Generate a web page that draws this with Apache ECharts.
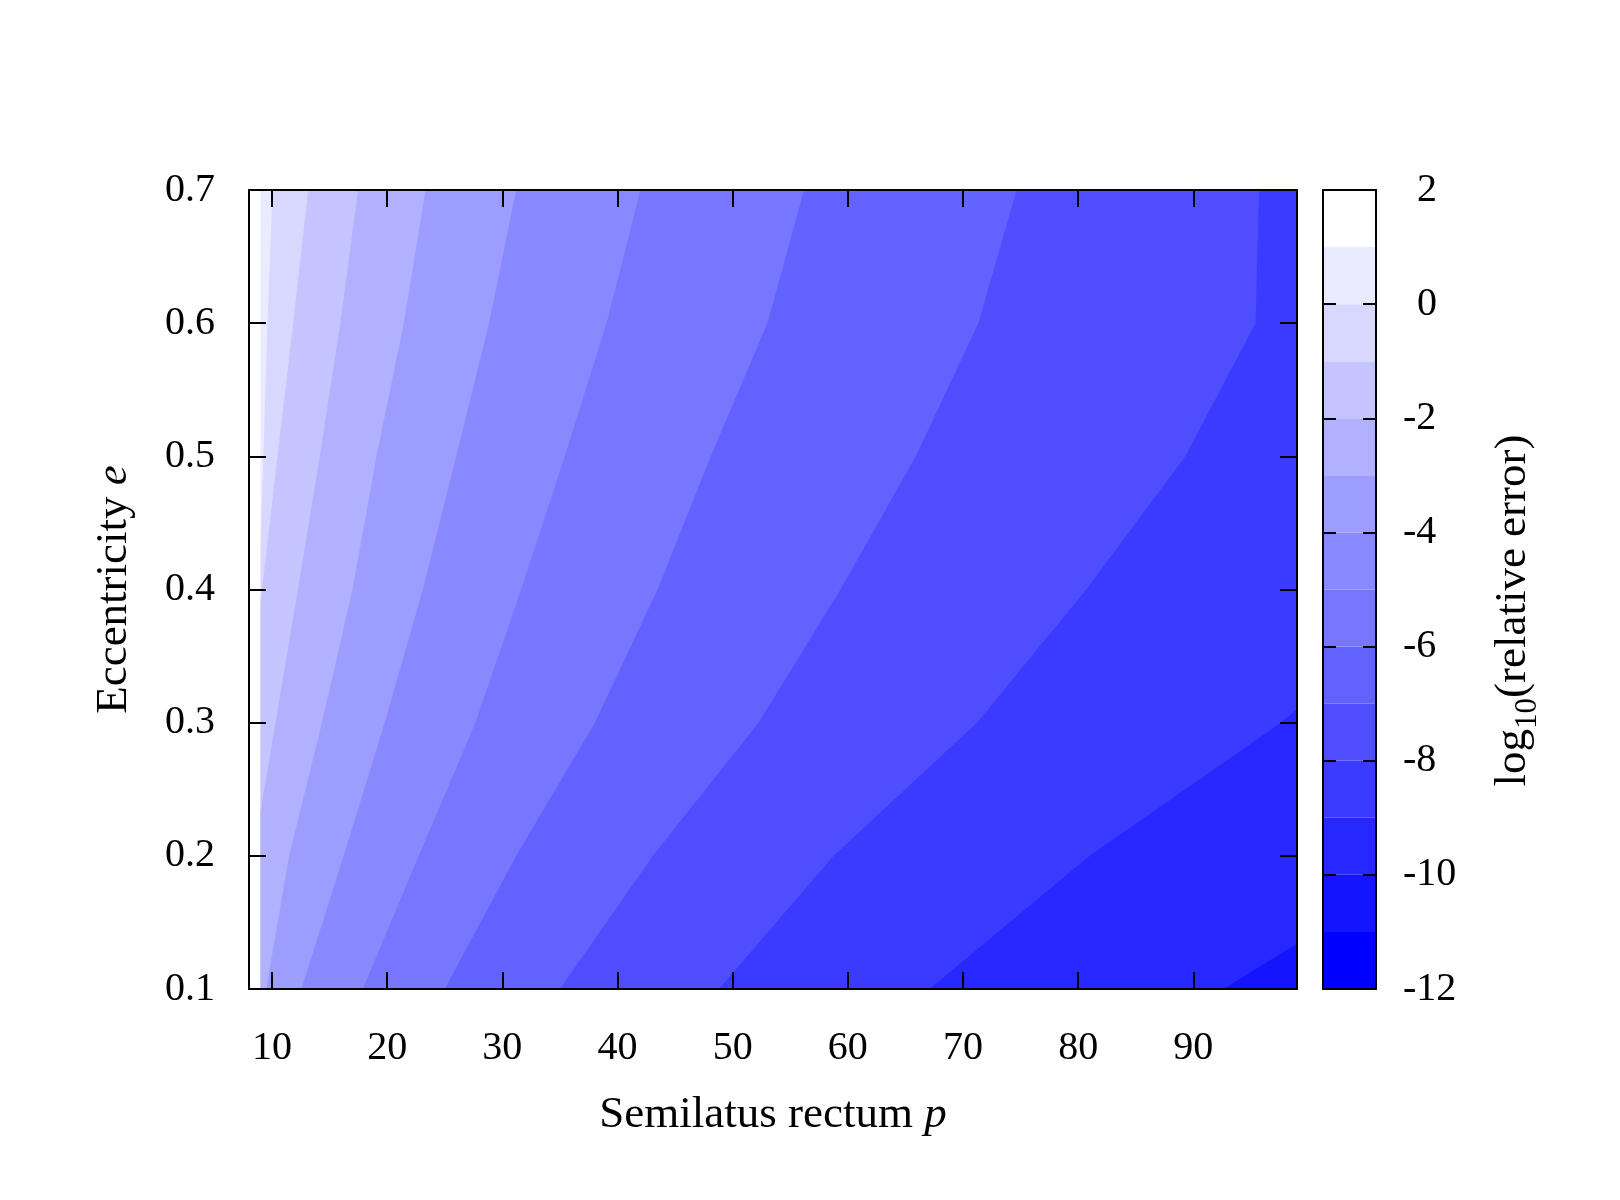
<!DOCTYPE html>
<html>
<head>
<meta charset="utf-8">
<title>log10(relative error)</title>
<script src="https://cdn.jsdelivr.net/npm/echarts@6/dist/echarts.min.js"></script>
<style>
html,body{margin:0;padding:0;background:#fff;}
#chart{width:1620px;height:1200px;}
</style>
</head>
<body>
<div id="chart"></div>
<script>
// contour lines of log10(relative error) as [p, e] points
var cut_0   = [[9.0,0.43],[9.25,0.5],[9.6,0.6],[10.05,0.7]];
var cut_m1  = [[9.0,0.39],[10.47,0.5],[11.84,0.6],[13.14,0.7]];
var cut_m2  = [[9.0,0.233],[10.3,0.3],[12.25,0.4],[14.15,0.5],[15.93,0.6],[17.47,0.7]];
var cut_m3  = [[9.5,0.1],[11.48,0.2],[14.33,0.3],[16.99,0.4],[19.07,0.5],[21.44,0.6],[23.33,0.7]];
var cut_m4  = [[12.55,0.1],[16.22,0.2],[19.78,0.3],[23.1,0.4],[26.0,0.5],[28.84,0.6],[31.2,0.7]];
var cut_m5  = [[17.88,0.1],[22.74,0.2],[27.66,0.3],[31.63,0.4],[35.42,0.5],[39.04,0.6],[42.0,0.7]];
var cut_m6  = [[25.0,0.1],[31.21,0.2],[38.03,0.3],[43.48,0.4],[48.1,0.5],[53.02,0.6],[56.2,0.7]];
var cut_m7  = [[35.0,0.1],[43.07,0.2],[52.25,0.3],[59.36,0.4],[65.9,0.5],[71.33,0.6],[74.65,0.7]];
var cut_m8  = [[48.8,0.1],[58.77,0.2],[71.21,0.3],[80.7,0.4],[89.3,0.5],[95.4,0.6],[95.7,0.7]];
var cut_m9  = [[67.1,0.1],[81.0,0.2],[97.6,0.3],[99,0.31]];
var cut_m10 = [[92.6,0.1],[99,0.134]];

var cuts = [cut_0, cut_m1, cut_m2, cut_m3, cut_m4, cut_m5, cut_m6, cut_m7, cut_m8, cut_m9, cut_m10];
var cutLevels = [0, -1, -2, -3, -4, -5, -6, -7, -8, -9, -10];

var pTicks = [10, 20, 30, 40, 50, 60, 70, 80, 90];
var cbBands = [-12, -11, -10, -9, -8, -7, -6, -5, -4, -3, -2, -1, 0, 1];

// data extent of the map
var P0 = 9, P1 = 99, E0 = 0.1, E1 = 0.7;

var FONT = '"Liberation Serif", "DejaVu Serif", serif';

// blue -> white, 14 levels
function bandColor(low){
	var g = Math.round(255 * (low + 12) / 13);
	return 'rgb(' + g + ',' + g + ',255)';
}

// position on the frame, clockwise from top left
function perim(q){
	var p = q[0], e = q[1];
	if (Math.abs(e - E1) < 1e-9) return (p - P0) / (P1 - P0);
	if (Math.abs(p - P1) < 1e-9) return 1 + (E1 - e) / (E1 - E0);
	if (Math.abs(e - E0) < 1e-9) return 2 + (P1 - p) / (P1 - P0);
	return 3 + (e - E0) / (E1 - E0);
}
var corners = [[P0,E1],[P1,E1],[P1,E0],[P0,E0]];

// region on the low-value side (right / below) of a contour line
function regionBelow(cut){
	var pts = cut.slice();
	var tEnd = perim(cut[cut.length - 1]);
	var tStart = perim(cut[0]);
	if (tStart <= tEnd) tStart += 4;
	for (var c = 1; c < 8; c++) {
		if (c > tEnd && c < tStart) pts.push(corners[c % 4]);
	}
	return pts;
}

var axisLineStyle = {color:'#000', width:2};
var tickStyle = {color:'#000', width:2};

var chart = echarts.init(document.getElementById('chart'), null, {renderer:'canvas'});

var contourData = [];
for (var k = 0; k <= cuts.length; k++) contourData.push([P0, E0, k]);

chart.setOption({
	backgroundColor:'#fff',
	animation:false,
	grid:[
		{left:249, top:190, width:1048, height:799, outerBoundsMode:'none'},
		{left:1323, top:190, width:53, height:799, outerBoundsMode:'none'}
	],
	xAxis:[{
		gridIndex:0, type:'value', min:8, max:99, position:'bottom', z:10,
		axisLine:{show:true, onZero:false, lineStyle:axisLineStyle},
		axisTick:{show:true, inside:true, length:17, lineStyle:tickStyle, customValues:pTicks},
		axisLabel:{show:true, margin:39, customValues:pTicks, color:'#000', fontFamily:FONT, fontSize:40},
		splitLine:{show:false},
		name:'Semilatus rectum {i|p}', nameLocation:'middle', nameGap:104,
		nameTextStyle:{color:'#000', fontFamily:FONT, fontSize:45,
			rich:{i:{fontStyle:'italic', fontFamily:FONT, fontSize:45, color:'#000'}}}
	},{
		gridIndex:0, type:'value', min:8, max:99, position:'top', z:10,
		axisLine:{show:true, onZero:false, lineStyle:axisLineStyle},
		axisTick:{show:true, inside:true, length:17, lineStyle:tickStyle, customValues:pTicks},
		axisLabel:{show:false},
		splitLine:{show:false}
	},{
		gridIndex:1, type:'value', min:0, max:1, position:'bottom', z:10,
		axisLine:{show:true, onZero:false, lineStyle:axisLineStyle},
		axisTick:{show:false}, axisLabel:{show:false}, splitLine:{show:false}
	},{
		gridIndex:1, type:'value', min:0, max:1, position:'top', z:10,
		axisLine:{show:true, onZero:false, lineStyle:axisLineStyle},
		axisTick:{show:false}, axisLabel:{show:false}, splitLine:{show:false}
	}],
	yAxis:[{
		gridIndex:0, type:'value', min:0.1, max:0.7, interval:0.1, position:'left', z:10,
		axisLine:{show:true, onZero:false, lineStyle:axisLineStyle},
		axisTick:{show:true, inside:true, length:17, lineStyle:tickStyle},
		axisLabel:{show:true, margin:34, showMinLabel:true, showMaxLabel:true,
			color:'#000', fontFamily:FONT, fontSize:40,
			formatter:function(v){ return v.toFixed(1); }},
		splitLine:{show:false},
		name:'Eccentricity {i|e}', nameLocation:'middle', nameGap:112, nameRotate:90,
		nameTextStyle:{color:'#000', fontFamily:FONT, fontSize:45,
			rich:{i:{fontStyle:'italic', fontFamily:FONT, fontSize:45, color:'#000'}}}
	},{
		gridIndex:0, type:'value', min:0.1, max:0.7, interval:0.1, position:'right', z:10,
		axisLine:{show:true, onZero:false, lineStyle:axisLineStyle},
		axisTick:{show:true, inside:true, length:17, lineStyle:tickStyle},
		axisLabel:{show:false},
		splitLine:{show:false}
	},{
		gridIndex:1, type:'value', min:-12, max:2, interval:2, position:'right', z:10,
		axisLine:{show:true, onZero:false, lineStyle:axisLineStyle},
		axisTick:{show:true, inside:true, length:13, lineStyle:tickStyle},
		axisLabel:{show:true, margin:27, showMinLabel:true, showMaxLabel:true, align:'left',
			color:'#000', fontFamily:FONT, fontSize:40,
			formatter:function(v){ return v < 0 ? String(v) : '{s|' + v + '}'; },
			rich:{s:{padding:[0,0,0,14], color:'#000', fontFamily:FONT, fontSize:40}}},
		splitLine:{show:false},
		name:'{n|log}{s|10}{n|(relative error)}', nameLocation:'middle', nameGap:108, nameRotate:90,
		nameTextStyle:{color:'#000', fontFamily:FONT, fontSize:45, padding:[0,42,0,0],
			rich:{
				n:{fontFamily:FONT, fontSize:45, color:'#000'},
				s:{fontFamily:FONT, fontSize:31, color:'#000', padding:[28,0,0,0]}
			}}
	},{
		gridIndex:1, type:'value', min:-12, max:2, interval:2, position:'left', z:10,
		axisLine:{show:true, onZero:false, lineStyle:axisLineStyle},
		axisTick:{show:true, inside:true, length:13, lineStyle:tickStyle},
		axisLabel:{show:false},
		splitLine:{show:false}
	}],
	series:[{
		// filled contour bands
		type:'custom',
		xAxisIndex:0, yAxisIndex:0,
		silent:true,
		z:1,
		encode:{x:0, y:1},
		data:contourData,
		renderItem:function(params, api){
			var k = api.value(2);
			var pts, low;
			if (k === 0) {
				pts = [[P0,E0],[P0,E1],[P1,E1],[P1,E0]];
				low = 0;
			} else {
				pts = regionBelow(cuts[k - 1]);
				low = cutLevels[k - 1] - 1;
			}
			return {
				type:'polygon',
				shape:{points:pts.map(function(q){ return api.coord(q); })},
				style:{fill:bandColor(low)}
			};
		}
	},{
		// colour box
		type:'custom',
		xAxisIndex:2, yAxisIndex:2,
		silent:true,
		z:1,
		encode:{x:0, y:1},
		data:cbBands.map(function(v){ return [0, v]; }),
		renderItem:function(params, api){
			var v = api.value(1);
			var a = api.coord([0, v + 1]);
			var b = api.coord([1, v]);
			return {
				type:'rect',
				shape:{x:a[0], y:a[1], width:b[0] - a[0], height:b[1] - a[1]},
				style:{fill:bandColor(v)}
			};
		}
	}]
});
</script>
</body>
</html>
